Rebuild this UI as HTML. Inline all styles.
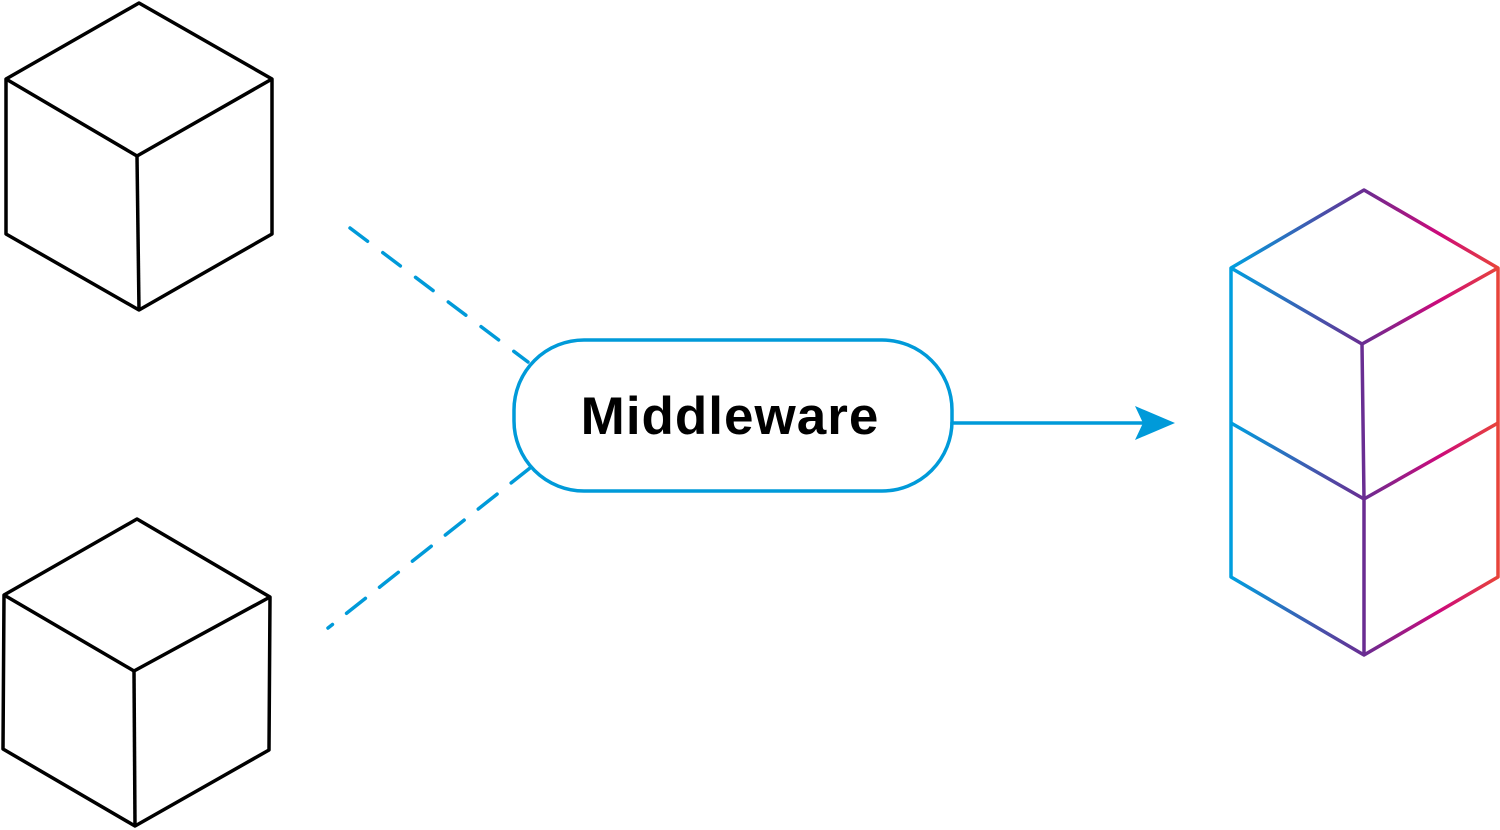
<!DOCTYPE html>
<html><head><meta charset="utf-8"><style>
html,body{margin:0;padding:0;background:#fff;width:1500px;height:830px;overflow:hidden}
</style></head><body>
<svg width="1500" height="830" viewBox="0 0 1500 830" xmlns="http://www.w3.org/2000/svg">
<defs>
<linearGradient id="g" gradientUnits="userSpaceOnUse" x1="1231" y1="0" x2="1498" y2="0">
<stop offset="0" stop-color="#009fdf"/>
<stop offset="0.5" stop-color="#6a2c91"/>
<stop offset="0.78" stop-color="#cc0a7b"/>
<stop offset="1" stop-color="#e8443a"/>
</linearGradient>
</defs>
<g fill="none" stroke="#000" stroke-width="3.5" stroke-linejoin="round">
<polygon points="139,3 272,79 272,234 139,310 6,234 6,79"/>
<polyline points="6,79 137,156 272,79"/>
<line x1="137" y1="156" x2="139" y2="310"/>
<polygon points="137,519 270,597 269,750 135,826 3,749 4,595"/>
<polyline points="4,595 134,671 270,597"/>
<line x1="134" y1="671" x2="135" y2="826"/>
</g>
<g stroke="#009ad9" stroke-width="3.5" fill="none" stroke-linecap="round">
<line x1="350" y1="228" x2="528" y2="362" stroke-dasharray="22 19"/>
<line x1="530" y1="468" x2="328" y2="628" stroke-dasharray="24 18"/>
<rect x="514" y="340" width="438" height="151" rx="70" ry="70" fill="#fff"/>
<line x1="952" y1="423" x2="1145" y2="423"/>
</g>
<polygon points="1175,423 1135,406 1143,423 1135,440" fill="#009ad9"/>
<text x="730" y="434" text-anchor="middle" font-family="Liberation Sans, sans-serif" font-weight="bold" font-size="53" letter-spacing="1" fill="#000">Middleware</text>
<g fill="none" stroke="url(#g)" stroke-width="3.5" stroke-linejoin="round">
<polygon points="1364,190 1498,268 1498,577 1364,655 1231,577 1231,268"/>
<polyline points="1231,268 1362,344 1498,268"/>
<polyline points="1231,423 1364,499 1498,423"/>
<polyline points="1362,344 1364,499 1364,655"/>
</g>
</svg>
</body></html>
